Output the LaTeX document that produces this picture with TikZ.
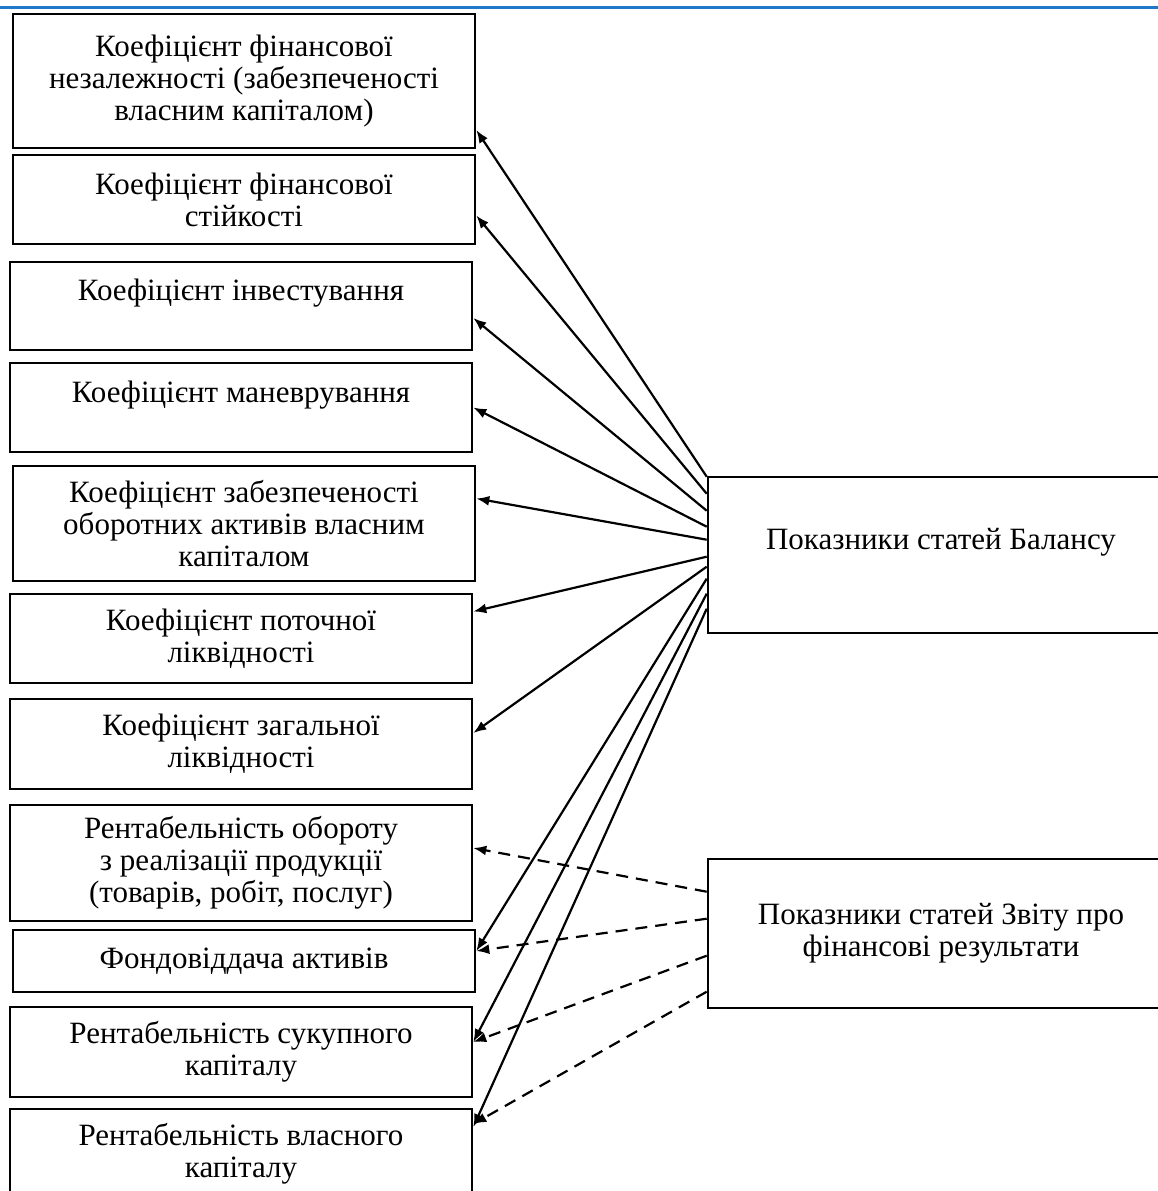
\documentclass[tikz,border=0pt]{standalone}
\usepackage{fontspec}
\setmainfont{Liberation Serif}
\usetikzlibrary{calc,arrows.meta}
\definecolor{rulecol}{RGB}{31,120,200}

\begin{document}
\begin{tikzpicture}
[x=1pt,y=-1pt,
bx/.style={draw,line width=2.6pt,align=center,inner sep=0pt,minimum width=462pt,font=\fontsize{31}{32}\selectfont},
ar/.style={-{Latex[length=13pt,width=10pt]},line width=2.2pt},
da/.style={-{Latex[length=13pt,width=10pt]},line width=2.2pt,dash pattern=on 12pt off 8pt}]
\clip (0,0) rectangle (1158,1191);
\draw [line width=3pt,rulecol] (0,7) -- (1158,7);

\node [bx,minimum height=134pt] at (244,81) (A) {Коефіцієнт фінансової\\незалежності (забезпеченості\\власним капіталом)};
\node [bx,minimum height=89pt] at (244,199.5) (B) {Коефіцієнт фінансової\\стійкості};
\node [bx,minimum height=88pt] at (241,306) (C) {Коефіцієнт інвестування\\\mbox{}};
\node [bx,minimum height=89pt] at (241,407.5) (D) {Коефіцієнт маневрування\\\mbox{}};
\node [bx,minimum height=115pt] at (244,523.5) (E) {Коефіцієнт забезпеченості\\оборотних активів власним\\капіталом};
\node [bx,minimum height=89pt] at (241,638.5) (F) {Коефіцієнт поточної\\ліквідності};
\node [bx,minimum height=90pt] at (241,744) (G) {Коефіцієнт загальної\\ліквідності};
\node [bx,minimum height=116pt] at (241,863) (H) {Рентабельність обороту\\з реалізації продукції\\(товарів, робіт, послуг)};
\node [bx,minimum height=62pt] at (244,961) (I) {Фондовіддача активів};
\node [bx,minimum height=90pt] at (241,1052) (J) {Рентабельність сукупного\\капіталу};
\node [bx,minimum height=90pt] at (241,1154) (K) {Рентабельність власного\\капіталу};

\node [bx,minimum width=466pt,minimum height=156pt] at (941,555) (M) {Показники статей Балансу\\\mbox{}};
\node [bx,minimum width=466pt,minimum height=149pt] at (941,933.5) (N) {Показники статей Звіту про\\фінансові результати};

\draw [ar] ($(M.north west)+(0,1)$) -- ($(A.east)+(0,49)$);
\draw [ar] ($(M.north west)+(0,18)$) -- ($(B.east)+(0,16)$);
\draw [ar] ($(M.north west)+(0,35)$) -- ($(C.east)+(0,12)$);
\draw [ar] ($(M.north west)+(0,51)$) -- (D.east);
\draw [ar] ($(M.north west)+(0,64)$) -- ($(E.east)+(0,-25)$);
\draw [ar] ($(M.north west)+(0,81)$) -- ($(F.east)+(0,-27)$);
\draw [ar] ($(M.north west)+(0,91)$) -- ($(G.east)+(0,-11)$);
\draw [ar] ($(M.north west)+(0,103)$) -- ($(I.east)+(0,-10)$);
\draw [ar] ($(M.north west)+(0,118)$) -- ($(J.east)+(0,-10)$);
\draw [ar] ($(M.north west)+(0,133)$) -- ($(K.east)+(0,-27)$);

\draw [da] ($(N.north west)+(0,34)$) -- ($(H.east)+(0,-15)$);
\draw [da] ($(N.north west)+(0,61)$) -- ($(I.east)+(0,-10)$);
\draw [da] ($(N.north west)+(0,98)$) -- ($(J.east)+(0,-10)$);
\draw [da] ($(N.north west)+(0,134)$) -- ($(K.east)+(0,-30)$);
\end{tikzpicture}
\end{document}
